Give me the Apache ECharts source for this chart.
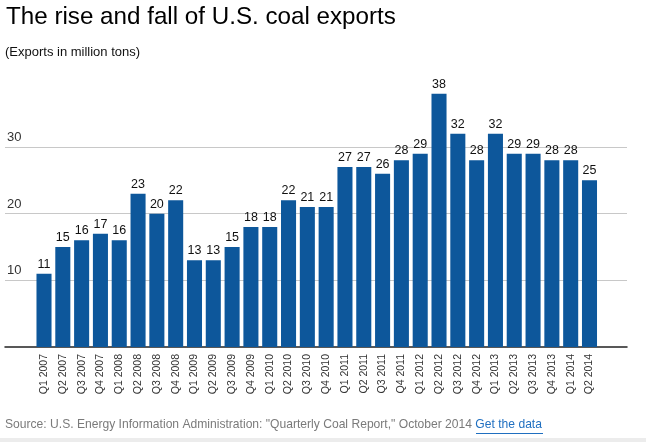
<!DOCTYPE html>
<html>
<head>
<meta charset="utf-8">
<script src="https://cdn.jsdelivr.net/npm/echarts@6/dist/echarts.min.js"></script>
<style>
  html, body { margin: 0; padding: 0; background: #fff; }
  #chart { width: 646px; height: 442px; }
</style>
</head>
<body>
<div id="chart"></div>
<script>
// quarters and exports (million tons)
var quarters = [
  'Q1 2007', 'Q2 2007', 'Q3 2007', 'Q4 2007',
  'Q1 2008', 'Q2 2008', 'Q3 2008', 'Q4 2008',
  'Q1 2009', 'Q2 2009', 'Q3 2009', 'Q4 2009',
  'Q1 2010', 'Q2 2010', 'Q3 2010', 'Q4 2010',
  'Q1 2011', 'Q2 2011', 'Q3 2011', 'Q4 2011',
  'Q1 2012', 'Q2 2012', 'Q3 2012', 'Q4 2012',
  'Q1 2013', 'Q2 2013', 'Q3 2013', 'Q4 2013',
  'Q1 2014', 'Q2 2014'
];
var exportsMt = [
  11, 15, 16, 17,
  16, 23, 20, 22,
  13, 13, 15, 18,
  18, 22, 21, 21,
  27, 27, 26, 28,
  29, 38, 32, 28,
  32, 29, 29, 28,
  28, 25
];
var yTicks = [0, 40, 10]; // min, max, interval

var font = 'Liberation Sans, Arial, sans-serif';
var chart = echarts.init(document.getElementById('chart'));

chart.setOption({
  backgroundColor: '#fff',
  animation: false,
  title: [
    {
      text: 'The rise and fall of U.S. coal exports',
      left: 6, top: 5, padding: 0,
      textStyle: { fontFamily: font, fontSize: 24.2, fontWeight: 'normal', color: '#000' }
    },
    {
      text: '(Exports in million tons)',
      left: 5, top: 46, padding: 0,
      textStyle: { fontFamily: font, fontSize: 13, fontWeight: 'normal', color: '#111' }
    },
    {
      text: '{a|Source: U.S. Energy Information Administration: "Quarterly Coal Report," October 2014 }{b|Get the data}',
      left: 5, top: 419, padding: 0,
      textStyle: {
        fontFamily: font, fontSize: 12.1, fontWeight: 'normal',
        rich: {
          a: { fontFamily: font, fontSize: 12.1, color: '#7a7a7a' },
          b: { fontFamily: font, fontSize: 12.1, color: '#1f6fc0' }
        }
      }
    }
  ],
  graphic: [
    { type: 'line', shape: { x1: 476, y1: 433.5, x2: 543, y2: 433.5 }, style: { stroke: '#1f6fc0', lineWidth: 1 } },
    { type: 'rect', shape: { x: 0, y: 438, width: 646, height: 4 }, style: { fill: '#ececec' } }
  ],
  grid: [
    { left: 5, right: 19, top: 80.3, bottom: 95 },
    { left: 34.6, right: 47.1, top: 80.3, bottom: 95 }
  ],
  xAxis: [
    {
      gridIndex: 0, type: 'value', min: 0, max: 1,
      axisLine: { show: true, onZero: false, lineStyle: { color: '#222', width: 1.5 } },
      axisTick: { show: false }, axisLabel: { show: false }, splitLine: { show: false }
    },
    {
      gridIndex: 1, type: 'category', data: quarters,
      axisLine: { show: false }, axisTick: { show: false },
      axisLabel: {
        rotate: 90, margin: 7, interval: 0,
        fontFamily: font, fontSize: 10.5, color: '#333'
      }
    }
  ],
  yAxis: [
    {
      gridIndex: 0, type: 'value', min: yTicks[0], max: yTicks[1], interval: yTicks[2],
      axisLine: { show: false }, axisTick: { show: false },
      axisLabel: {
        inside: true, verticalAlign: 'bottom', margin: 2, padding: [0, 0, 3, 0],
        showMinLabel: false, showMaxLabel: false,
        fontFamily: font, fontSize: 13, color: '#333'
      },
      splitLine: { show: true, showMinLine: false, showMaxLine: false, lineStyle: { color: '#c8c8c8', width: 1 } }
    },
    {
      gridIndex: 1, type: 'value', min: yTicks[0], max: yTicks[1], interval: yTicks[2],
      show: false, splitLine: { show: false }
    }
  ],
  series: [
    {
      type: 'bar',
      xAxisIndex: 1, yAxisIndex: 1,
      data: exportsMt,
      barCategoryGap: '20%',
      itemStyle: { color: '#0d579b' },
      label: {
        show: true, position: 'top', distance: 3,
        fontFamily: font, fontSize: 12.5, color: '#111'
      }
    }
  ]
});
</script>
</body>
</html>
